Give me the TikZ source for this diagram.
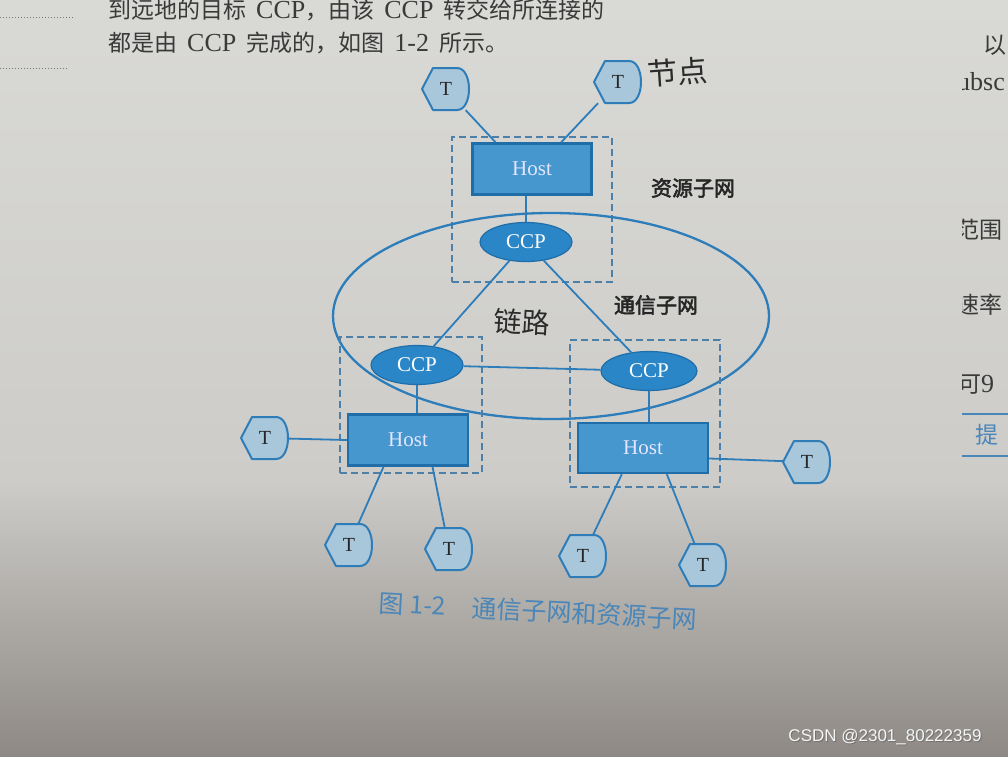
\documentclass[tikz,border=0pt]{standalone}
\usepackage{fontspec}
\setmainfont{Liberation Serif}
\newfontfamily\cjk[AutoFakeBold=2.5]{Noto Sans CJK SC}
\newfontfamily\wmfont{Liberation Sans}
\usetikzlibrary{shapes.geometric,calc}
\definecolor{bgA}{HTML}{D9D9D6}
\definecolor{bgB}{HTML}{CDCCC9}
\definecolor{bgC}{HTML}{8E8984}
\definecolor{linec}{HTML}{2C7DBA}
\definecolor{hostfill}{HTML}{4597CE}
\definecolor{hostline}{HTML}{1F6EAA}
\definecolor{ccpfill}{HTML}{2A86C6}
\definecolor{ccpline}{HTML}{1F6EAA}
\definecolor{tfill}{HTML}{A9C7DB}
\definecolor{tline}{HTML}{2F7DB8}
\definecolor{dashc}{HTML}{4C80A8}
\definecolor{capc}{HTML}{4A86B8}
\definecolor{ink}{HTML}{2B2B2B}
\definecolor{pagetext}{HTML}{3A3A3A}
\tikzset{
  conn/.style={draw=linec, line width=1.8pt},
  hostbox/.style={rectangle, draw=hostline, line width=2.4pt, fill=hostfill, text=white!90!blue,
    font=\fontsize{21}{21}\selectfont, minimum width=120pt, minimum height=51pt, inner sep=0pt},
  ccpell/.style={ellipse, draw=ccpline, line width=1.2pt, fill=ccpfill, text=white,
    font=\fontsize{21}{21}\selectfont, minimum width=92pt, minimum height=39pt, inner sep=0pt},
  tnode/.style={rectangle, inner sep=0pt, minimum width=48pt, minimum height=42pt,
    font=\fontsize{20}{20}\selectfont, text=black!85},
  tshape/.style={draw=tline, fill=tfill, line width=2pt, line join=round},
  dbox/.style={rectangle, draw=dashc, line width=1.4pt, dash pattern=on 7pt off 4pt, inner sep=0pt},
  subnet/.style={ellipse, draw=linec, line width=2.3pt, inner sep=0pt},
  lab/.style={font=\cjk\bfseries\fontsize{21}{21}\selectfont, text=black!85},
  hand/.style={font=\cjk\fontsize{30}{30}\selectfont, text=ink},
  ptext/.style={anchor=west, inner sep=0pt, text=pagetext, font=\fontsize{26}{26}\selectfont},
}
\newcommand\zh[1]{{\cjk\fontsize{23}{23}\selectfont #1}}
\newcommand\TermNode[3]{%
  \begin{scope}[shift={(#2,#3)}]
    \path[tshape] (-24,0) -- (-13,-21) -- (11,-21) .. controls (27,-21) and (27,21) .. (11,21) -- (-13,21) -- cycle;
  \end{scope}
  \node[tnode] (#1) at (#2,#3) {T};
}
\begin{document}
\begin{tikzpicture}[x=1pt,y=-1pt]
\useasboundingbox (0,0) rectangle (1008,756);
\shade[top color=bgA, bottom color=bgB] (0,0) rectangle (1008,480);
\shade[top color=bgB, bottom color=bgC] (0,480) rectangle (1008,756);

% page text at top
\draw[pagetext!70, dotted, line width=1pt] (0,17) -- (75,17);
\draw[pagetext!70, dotted, line width=1pt] (0,68) -- (68,68);
\node[ptext] (l1) at (108,10) {\zh{到远地的目标}\hspace{10pt}CCP\zh{，由该}\hspace{10pt}CCP\hspace{10pt}\zh{转交给所连接的}};
\node[ptext] (l2) at (108,43) {\zh{都是由}\hspace{10pt}CCP\hspace{10pt}\zh{完成的，如图}\hspace{10pt}1-2\hspace{10pt}\zh{所示。}};

% right page fragments
\begin{scope}
  \clip (962,0) rectangle (1008,700);
  \node[ptext] (r1) at (983,45) {\zh{以}};
  \node[ptext] (r2) at (957,82) {ubsc};
  \node[ptext] (r3) at (956,230) {\zh{范围}};
  \node[ptext] (r4) at (956,305) {\zh{速率}};
  \node[ptext] (r5) at (958,385) {\zh{可}9};
  \node[ptext, text=capc] (r6) at (975,435) {\zh{提}};
  \draw[capc, line width=1.5pt] (962,414) -- (1008,414);
  \draw[capc, line width=1.5pt] (962,456) -- (1008,456);
\end{scope}

% dashed boxes and communication subnet
\node[dbox, minimum width=160pt, minimum height=145pt] (d1) at (532,209.5) {};
\node[subnet, minimum width=436pt, minimum height=206pt] (sub) at (551,316) {};
\node[dbox, minimum width=142pt, minimum height=136pt] (d2) at (411,405) {};
\node[dbox, minimum width=150pt, minimum height=147pt] (d3) at (645,413.5) {};

% hosts and CCPs
\node[hostbox, minimum width=119pt] (h1) at (532,169) {Host};
\node[hostbox] (h2) at (408,440) {Host};
\node[hostbox, minimum width=130pt, minimum height=50pt] (h3) at (643,448) {Host};
\node[ccpell] (c1) at (526,242) {CCP};
\node[ccpell] (c2) at (417,365) {CCP};
\node[ccpell, minimum width=96pt] (c3) at (649,371) {CCP};

% terminals
\TermNode{tl}{446}{89}
\TermNode{tr}{618}{82}
\TermNode{tL}{265}{438}
\TermNode{tR}{807}{462}
\TermNode{b1}{349}{545}
\TermNode{b2}{449}{549}
\TermNode{b3}{583}{556}
\TermNode{b4}{703}{565}

% connectors
\draw[conn] (tl) -- ($(h1.north west)!0.2!(h1.north east)$);
\draw[conn] (tr) -- ($(h1.north west)!0.74!(h1.north east)$);
\draw[conn] (c1.north) -- (c1.north |- h1.south);
\draw[conn] (c1) -- (c2);
\draw[conn] (c1) -- (c3);
\draw[conn] (c2) -- (c3);
\draw[conn] (c2.south) -- (c2.south |- h2.north);
\draw[conn] (c3.south) -- (c3.south |- h3.north);
\draw[conn] (tL) -- (h2.west);
\draw[conn] ($(h3.north east)!0.7!(h3.south east)$) -- (tR);
\draw[conn] ($(h2.south west)!0.3!(h2.south east)$) -- (b1);
\draw[conn] ($(h2.south west)!0.7!(h2.south east)$) -- (b2);
\draw[conn] ($(h3.south west)!0.34!(h3.south east)$) -- (b3);
\draw[conn] ($(h3.south west)!0.68!(h3.south east)$) -- (b4);

% labels
\node[lab] (res) at (693,188) {资源子网};
\node[lab] (com) at (656,305) {通信子网};
\node[hand, rotate=4] (jd) at (678,72) {节点};
\node[hand, font=\cjk\fontsize{28}{28}\selectfont, rotate=-3] (ll) at (522,322) {链路};

% caption
\node[font=\cjk\fontsize{25}{25}\selectfont, text=capc, rotate=-3] (cap) at (538,611) {图 1-2\hspace{26pt}通信子网和资源子网};

% watermark
\node[font=\wmfont\fontsize{17}{17}\selectfont, text=black!55] at (886,738) {CSDN @2301\_80222359};
\node[font=\wmfont\fontsize{17}{17}\selectfont, text=white!92!gray] (wm) at (885,737) {CSDN @2301\_80222359};
\end{tikzpicture}
\end{document}
